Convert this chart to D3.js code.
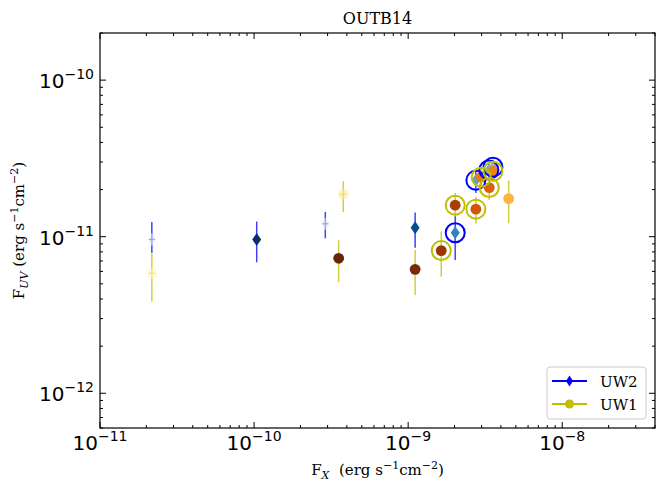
<!DOCTYPE html>
<html>
<head>
<meta charset="utf-8">
<script src="https://cdn.jsdelivr.net/npm/d3@7"></script>
<style>
  body { margin: 0; background: #fff; }
  svg { display: block; }
  .tick-label { font-family: "DejaVu Sans", sans-serif; fill: #000; }
  .serif { font-family: "DejaVu Serif", serif; fill: #000; }
</style>
</head>
<body>
<div id="chart"></div>
<script>
// UW2 (diamonds)
var uw2Fx = [2.17e-11, 1.04e-10, 2.9e-10, 1.11e-9, 2.02e-9, 2.75e-9, 3.34e-9, 3.55e-9];
var uw2Fuv = [9.6e-12, 9.6e-12, 1.21e-11, 1.14e-11, 1.06e-11, 2.29e-11, 2.67e-11, 2.78e-11];
var uw2Lo = [7.87e-12, 6.87e-12, 9.77e-12, 8.51e-12, 7.1e-12, 1.9e-11, 2.4e-11, 2.5e-11];
var uw2Hi = [1.24e-11, 1.25e-11, 1.44e-11, 1.43e-11, 1.36e-11, 2.67e-11, 2.95e-11, 3.1e-11];
var uw2Time = [0.1, 1.0, 0.12, 0.9, 0.68, 0.55, 0.5, 0.45];
var uw2Ring = [0, 0, 0, 0, 1, 1, 1, 1];

// UW1 (circles)
var uw1Fx = [2.17e-11, 3.79e-10, 3.54e-10, 1.11e-9, 1.64e-9, 2.02e-9, 2.75e-9, 2.98e-9, 3.36e-9, 3.55e-9, 4.49e-9];
var uw1Fuv = [5.83e-12, 1.87e-11, 7.28e-12, 6.19e-12, 8.15e-12, 1.59e-11, 1.5e-11, 2.4e-11, 2.06e-11, 2.62e-11, 1.75e-11];
var uw1Lo = [3.85e-12, 1.44e-11, 5.12e-12, 4.25e-12, 5.56e-12, 1.34e-11, 1.21e-11, 2.1e-11, 1.71e-11, 2.3e-11, 1.22e-11];
var uw1Hi = [7.76e-12, 2.26e-11, 9.48e-12, 8.22e-12, 1.08e-11, 1.9e-11, 1.8e-11, 2.75e-11, 2.55e-11, 2.95e-11, 2.28e-11];
var uw1Time = [0.12, 0.2, 1.0, 0.95, 0.87, 0.83, 0.72, 0.6, 0.68, 0.58, 0.42];
var uw1Ring = [0, 0, 0, 0, 1, 1, 1, 1, 1, 1, 0];

var xDomain = [1e-11, 4e-8];
var yDomain = [6e-13, 2e-10];
var xMajor = [-11, -10, -9, -8];
var yMajor = [-12, -11, -10];

var W = 664, H = 493;
var margin = { top: 33, right: 9, bottom: 65, left: 100 };

var svg = d3.select("#chart").append("svg").attr("width", W).attr("height", H);

var x = d3.scaleLog().domain(xDomain).range([margin.left, W - margin.right]);
var y = d3.scaleLog().domain(yDomain).range([H - margin.bottom, margin.top]);

var blueCol = "#0000ff", yelCol = "#bfbf00";

function minorTicks(dom) {
  var out = [];
  var lo = Math.floor(Math.log10(dom[0])), hi = Math.ceil(Math.log10(dom[1]));
  for (var e = lo; e < hi; e++) {
    for (var k = 2; k <= 9; k++) {
      var v = k * Math.pow(10, e);
      if (v >= dom[0] && v <= dom[1]) out.push(v);
    }
  }
  return out;
}

function diamond(w, h) {
  return "M0," + (-h / 2) + "L" + (w / 2) + ",0L0," + (h / 2) + "L" + (-w / 2) + ",0Z";
}

function rows(fx, fuv, lo, hi, t, ring) {
  return fx.map(function (d, i) {
    return { fx: d, fuv: fuv[i], lo: lo[i], hi: hi[i], t: t[i], ring: ring[i] };
  });
}
var uw2 = rows(uw2Fx, uw2Fuv, uw2Lo, uw2Hi, uw2Time, uw2Ring);
var uw1 = rows(uw1Fx, uw1Fuv, uw1Lo, uw1Hi, uw1Time, uw1Ring);

var plot = svg.append("g");

// error bars
function errorBars(data, col, cls) {
  plot.selectAll("line." + cls).data(data).join("line")
    .attr("class", cls)
    .attr("x1", function (d) { return x(d.fx); })
    .attr("x2", function (d) { return x(d.fx); })
    .attr("y1", function (d) { return y(d.lo); })
    .attr("y2", function (d) { return y(d.hi); })
    .attr("stroke", col).attr("stroke-opacity", 0.75).attr("stroke-width", 1.5);
  plot.selectAll("line." + cls + "h").data(data).join("line")
    .attr("class", cls + "h")
    .attr("x1", function (d) { return x(d.fx) - 3; })
    .attr("x2", function (d) { return x(d.fx) + 3; })
    .attr("y1", function (d) { return y(d.fuv); })
    .attr("y2", function (d) { return y(d.fuv); })
    .attr("stroke", col).attr("stroke-opacity", 0.75).attr("stroke-width", 1.3);
}
errorBars(uw2, blueCol, "e2");
errorBars(uw1, yelCol, "e1");

function alphaOf(d) { return d.t < 0.25 ? 0.6 : 1; }

plot.selectAll("path.m2").data(uw2).join("path")
  .attr("class", "m2")
  .attr("d", diamond(9, 13))
  .attr("transform", function (d) { return "translate(" + x(d.fx) + "," + y(d.fuv) + ")"; })
  .attr("fill", function (d) { return d3.interpolateBlues(d.t); })
  .attr("fill-opacity", alphaOf);

plot.selectAll("circle.m1").data(uw1).join("circle")
  .attr("class", "m1")
  .attr("cx", function (d) { return x(d.fx); })
  .attr("cy", function (d) { return y(d.fuv); })
  .attr("r", 5.4)
  .attr("fill", function (d) { return d3.interpolateYlOrBr(d.t); })
  .attr("fill-opacity", alphaOf);

// highlight rings
plot.selectAll("circle.r2").data(uw2.filter(function (d) { return d.ring; })).join("circle")
  .attr("class", "r2")
  .attr("cx", function (d) { return x(d.fx); })
  .attr("cy", function (d) { return y(d.fuv); })
  .attr("r", 9.5).attr("fill", "none").attr("stroke", blueCol).attr("stroke-width", 2);
plot.selectAll("circle.r1").data(uw1.filter(function (d) { return d.ring; })).join("circle")
  .attr("class", "r1")
  .attr("cx", function (d) { return x(d.fx); })
  .attr("cy", function (d) { return y(d.fuv); })
  .attr("r", 9.5).attr("fill", "none").attr("stroke", yelCol).attr("stroke-width", 2);

// frame + ticks (inward, all four sides)
var x0 = margin.left, x1 = W - margin.right, y0 = margin.top, y1 = H - margin.bottom;
var ax = svg.append("g").attr("stroke", "#000");
function tickLines(vals, len, horiz) {
  vals.forEach(function (v) {
    if (horiz) {
      var px = x(v);
      ax.append("line").attr("x1", px).attr("x2", px).attr("y1", y1).attr("y2", y1 - len);
      ax.append("line").attr("x1", px).attr("x2", px).attr("y1", y0).attr("y2", y0 + len);
    } else {
      var py = y(v);
      ax.append("line").attr("y1", py).attr("y2", py).attr("x1", x0).attr("x2", x0 + len);
      ax.append("line").attr("y1", py).attr("y2", py).attr("x1", x1).attr("x2", x1 - len);
    }
  });
}
tickLines(xMajor.map(function (e) { return Math.pow(10, e); }), 6, true);
tickLines(minorTicks(xDomain), 3, true);
tickLines(yMajor.map(function (e) { return Math.pow(10, e); }), 6, false);
tickLines(minorTicks(yDomain), 3, false);
ax.append("rect").attr("x", x0).attr("y", y0).attr("width", x1 - x0).attr("height", y1 - y0)
  .attr("fill", "none").attr("stroke-width", 1.2);

// tick labels
function powLabel(g, e) {
  g.append("tspan").text("10").attr("font-size", 20);
  g.append("tspan").text("\u2212" + Math.abs(e)).attr("font-size", 14).attr("dy", -9);
}
xMajor.forEach(function (e) {
  var t = svg.append("text").attr("class", "tick-label")
    .attr("x", x(Math.pow(10, e))).attr("y", 450).attr("text-anchor", "middle");
  powLabel(t, e);
});
yMajor.forEach(function (e) {
  var t = svg.append("text").attr("class", "tick-label")
    .attr("x", x0 - 6).attr("y", y(Math.pow(10, e)) + 8).attr("text-anchor", "end");
  powLabel(t, e);
});

// title and axis labels
svg.append("text").attr("class", "serif").attr("x", (x0 + x1) / 2).attr("y", 24)
  .attr("text-anchor", "middle").attr("font-size", 16).text("OUTB14");

var xl = svg.append("text").attr("class", "serif").attr("x", (x0 + x1) / 2).attr("y", 475)
  .attr("text-anchor", "middle").attr("font-size", 15);
xl.append("tspan").text("F");
xl.append("tspan").text("X").attr("font-style", "italic").attr("font-size", 11).attr("dy", 4);
xl.append("tspan").text("  (erg s").attr("dy", -4).attr("xml:space", "preserve");
xl.append("tspan").text("\u22121").attr("font-size", 11).attr("dy", -6);
xl.append("tspan").text("cm").attr("dy", 6);
xl.append("tspan").text("\u22122").attr("font-size", 11).attr("dy", -6);
xl.append("tspan").text(")").attr("dy", 6);

var yl = svg.append("text").attr("class", "serif")
  .attr("transform", "translate(24," + ((y0 + y1) / 2) + ") rotate(-90)")
  .attr("text-anchor", "middle").attr("font-size", 15);
yl.append("tspan").text("F");
yl.append("tspan").text("UV").attr("font-style", "italic").attr("font-size", 11).attr("dy", 4);
yl.append("tspan").text(" (erg s").attr("dy", -4);
yl.append("tspan").text("\u22121").attr("font-size", 11).attr("dy", -6);
yl.append("tspan").text("cm").attr("dy", 6);
yl.append("tspan").text("\u22122").attr("font-size", 11).attr("dy", -6);
yl.append("tspan").text(")").attr("dy", 6);

// legend
var leg = svg.append("g").attr("transform", "translate(547,367)");
leg.append("rect").attr("width", 99).attr("height", 52).attr("rx", 3)
  .attr("fill", "#fff").attr("fill-opacity", 0.8).attr("stroke", "#cccccc");
var items = [{ name: "UW2", col: blueCol, shape: "d" }, { name: "UW1", col: yelCol, shape: "o" }];
items.forEach(function (it, i) {
  var gy = 14 + i * 23;
  leg.append("line").attr("x1", 5).attr("x2", 40).attr("y1", gy).attr("y2", gy)
    .attr("stroke", it.col).attr("stroke-width", 2);
  if (it.shape === "d") {
    leg.append("path").attr("d", diamond(7, 11)).attr("transform", "translate(22.5," + gy + ")").attr("fill", it.col);
  } else {
    leg.append("circle").attr("cx", 22.5).attr("cy", gy).attr("r", 4.5).attr("fill", it.col);
  }
  leg.append("text").attr("class", "serif").attr("x", 53).attr("y", gy + 5.5)
    .attr("font-size", 15).text(it.name);
});
</script>
</body>
</html>
